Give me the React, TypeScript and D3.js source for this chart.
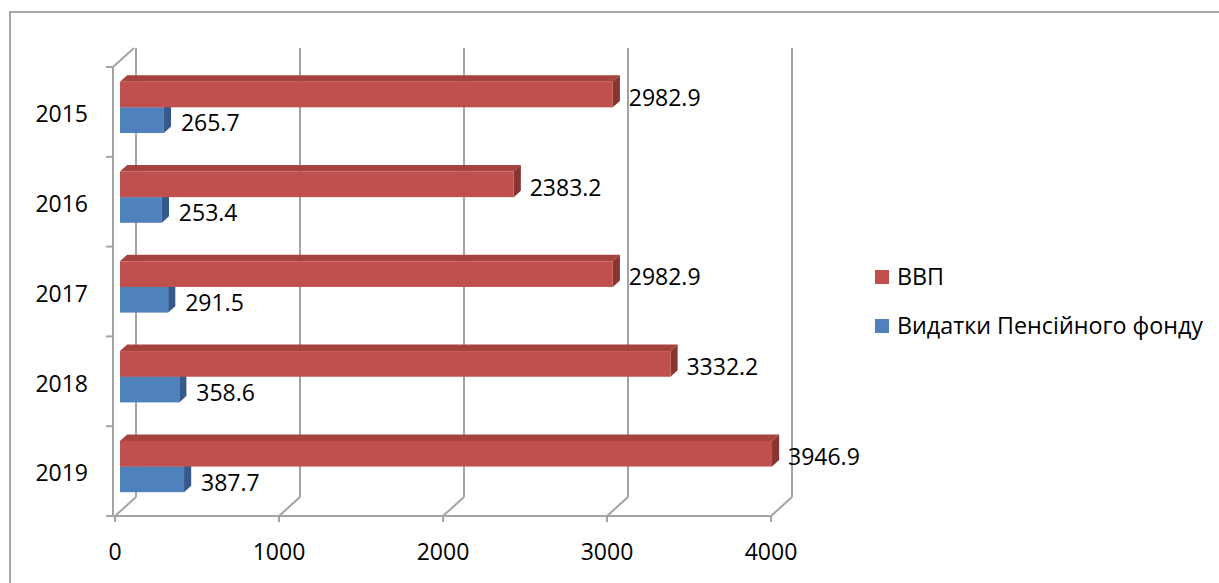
import React from "react";
import * as d3 from "d3";

// Years on the category axis, top to bottom
const years = ["2015", "2016", "2017", "2018", "2019"];
// Series values, billions UAH
const gdp = [2982.9, 2383.2, 2982.9, 3332.2, 3946.9];
const pension = [265.7, 253.4, 291.5, 358.6, 387.7];
const xTicks = [0, 1000, 2000, 3000, 4000];
const seriesNames = ["ВВП", "Видатки Пенсійного фонду"];

const W = 1219;
const H = 583;
const FONT = "'Open Sans', 'Noto Sans', sans-serif";

// Oblique 3D projection: front plane plus a depth vector to the back wall
const DEPTH_X = 21;
const DEPTH_Y = -19;
const BAR_D0 = 0.24; // depth fraction of bar front face
const BAR_D1 = 0.58; // depth fraction of bar back face

const COLORS = {
  gdp: { front: "#C0504D", top: "#A6433F", side: "#8A3432" },
  pension: { front: "#4F81BD", top: "#4472A8", side: "#35598A" },
};
const GRID = "#a3a3a3";

export default function App() {
  const floorX = d3.scaleLinear().domain([0, 4000]).range([115, 771]);
  const barX = d3.scaleLinear().domain([0, 4000]).range([120, 780.8]);
  const yBand = d3.scaleBand<string>().domain(years).range([67, 516]).paddingInner(0).paddingOuter(0);
  const bw = yBand.bandwidth();
  // gap width 150%: two bars plus 1.5 bar widths of gap per category
  const barH = bw / 3.5;
  const groupOffset = barH * 0.75;

  const ddx = (BAR_D1 - BAR_D0) * DEPTH_X;
  const ddy = (BAR_D1 - BAR_D0) * DEPTH_Y;

  const bar = (v: number, yFront: number, c: { front: string; top: string; side: string }, key: string) => {
    const x0 = barX(0);
    const x1 = barX(v);
    const top = `${x0},${yFront} ${x1},${yFront} ${x1 + ddx},${yFront + ddy} ${x0 + ddx},${yFront + ddy}`;
    const side = `${x1},${yFront} ${x1 + ddx},${yFront + ddy} ${x1 + ddx},${yFront + ddy + barH} ${x1},${yFront + barH}`;
    return (
      <g key={key}>
        <polygon points={top} fill={c.top} />
        <polygon points={side} fill={c.side} />
        <rect x={x0} y={yFront} width={x1 - x0} height={barH} fill={c.front} />
      </g>
    );
  };

  const yTop = 67;
  const yBottom = 516;
  const leftAxisX = 113;

  return (
    <svg
      width={W}
      height={H}
      viewBox={`0 0 ${W} ${H}`}
      style={{ position: "absolute", left: 0, top: 0, background: "#fff" }}
      fontFamily={FONT}
    >
      <rect x={0} y={0} width={W} height={H} fill="#fff" />
      {/* chart frame */}
      <rect x={10} y={12} width={W + 20} height={H + 20} fill="none" stroke="#8a8a8a" strokeWidth={1.5} />

      {/* back wall gridlines */}
      {xTicks.map((t) => (
        <line
          key={`bg${t}`}
          x1={floorX(t) + DEPTH_X}
          x2={floorX(t) + DEPTH_X}
          y1={yTop + DEPTH_Y}
          y2={yBottom + DEPTH_Y}
          stroke={GRID}
          strokeWidth={2}
        />
      ))}
      {/* floor depth lines */}
      {xTicks.map((t) => (
        <line
          key={`fl${t}`}
          x1={floorX(t)}
          x2={floorX(t) + DEPTH_X}
          y1={yBottom}
          y2={yBottom + DEPTH_Y}
          stroke={GRID}
          strokeWidth={2}
        />
      ))}
      {/* side wall top edge */}
      <line x1={leftAxisX} y1={yTop} x2={leftAxisX + DEPTH_X} y2={yTop + DEPTH_Y} stroke={GRID} strokeWidth={2} />
      {/* category axis */}
      <line x1={leftAxisX} y1={yTop} x2={leftAxisX} y2={yBottom} stroke={GRID} strokeWidth={2} />
      {[...years.map((y) => yBand(y) as number), yBottom].map((y, i) => (
        <line key={`ct${i}`} x1={leftAxisX - 7} x2={leftAxisX} y1={y} y2={y} stroke={GRID} strokeWidth={2} />
      ))}
      {/* value axis */}
      <line x1={leftAxisX} y1={yBottom} x2={floorX(4000)} y2={yBottom} stroke={GRID} strokeWidth={2} />
      {xTicks.map((t) => (
        <line key={`vt${t}`} x1={floorX(t)} x2={floorX(t)} y1={yBottom} y2={yBottom + 6} stroke={GRID} strokeWidth={2} />
      ))}

      {/* bars: pension below, GDP above, drawn so GDP covers the pension top face */}
      {years.map((y, i) => {
        const base = (yBand(y) as number) + groupOffset + BAR_D0 * DEPTH_Y;
        return (
          <g key={`bars${y}`}>
            {bar(pension[i], base + barH, COLORS.pension, `p${y}`)}
            {bar(gdp[i], base, COLORS.gdp, `g${y}`)}
          </g>
        );
      })}

      {/* data labels */}
      {years.map((y, i) => {
        const base = (yBand(y) as number) + groupOffset + BAR_D0 * DEPTH_Y;
        return (
          <g key={`lab${y}`} fontSize={23} fill="#000">
            <text x={barX(gdp[i]) + 16} y={base + barH / 2 + 3} dy="0.36em">
              {gdp[i].toFixed(1)}
            </text>
            <text x={barX(pension[i]) + 17} y={base + barH * 1.5 + 3} dy="0.36em">
              {pension[i].toFixed(1)}
            </text>
          </g>
        );
      })}

      {/* category labels */}
      {years.map((y) => (
        <text
          key={`yl${y}`}
          x={88}
          y={(yBand(y) as number) + bw / 2 + 2}
          dy="0.36em"
          textAnchor="end"
          fontSize={23}
          fill="#000"
        >
          {y}
        </text>
      ))}

      {/* value tick labels */}
      {xTicks.map((t) => (
        <text key={`xl${t}`} x={floorX(t)} y={552} dy="0.36em" textAnchor="middle" fontSize={23} fill="#000">
          {t}
        </text>
      ))}

      {/* legend */}
      {seriesNames.map((name, i) => {
        const c = i === 0 ? COLORS.gdp.front : COLORS.pension.front;
        const cy = 277 + i * 49;
        return (
          <g key={`lg${i}`}>
            <rect x={875} y={cy - 7} width={14} height={14} fill={c} />
            <text x={897} y={cy} dy="0.36em" fontSize={23.3} fill="#000">
              {name}
            </text>
          </g>
        );
      })}
    </svg>
  );
}
